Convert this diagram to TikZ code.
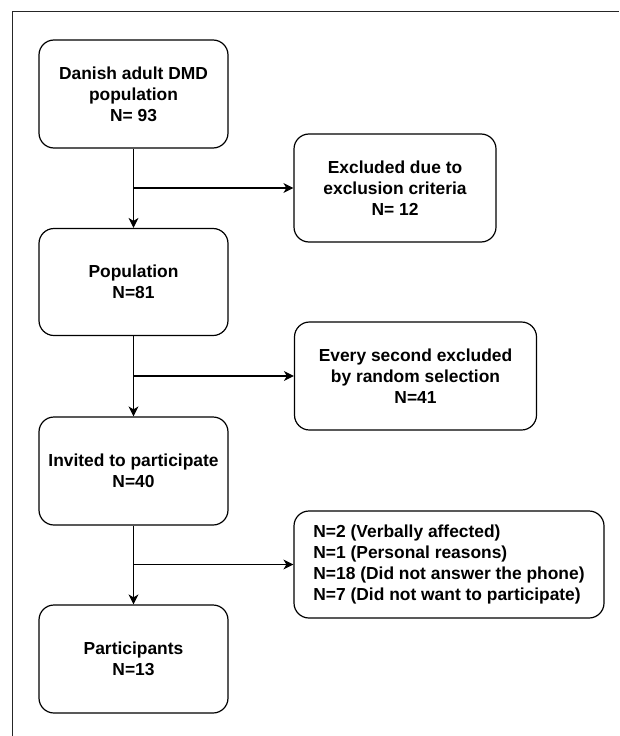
\documentclass[tikz,border=0pt]{standalone}
\usepackage{fontspec}
\setmainfont{Liberation Sans}
\usetikzlibrary{arrows.meta}
\begin{document}
\begin{tikzpicture}[x=1pt,y=-1pt,
  box/.style={draw, line width=1.2pt, rounded corners=15pt, inner sep=0pt,
    font=\fontsize{17.4}{21}\selectfont\bfseries, align=center},
  conn/.style={line width=1.1pt, -{Stealth[length=10pt,width=10pt,inset=3pt]}}]
\useasboundingbox (0,0) rectangle (619,736);
\draw[line width=1pt, black!85] (12,736) -- (12,11) -- (619,11);
\node[box, minimum width=189pt, minimum height=108pt] (b1) at (133.5,94) {Danish adult DMD\\population\\N= 93};
\node[box, minimum width=189pt, minimum height=107pt] (b2) at (133.5,282) {Population\\N=81};
\node[box, minimum width=189pt, minimum height=108pt] (b3) at (133.5,471) {Invited to participate\\N=40};
\node[box, minimum width=189pt, minimum height=108pt] (b4) at (133.5,659) {Participants\\N=13};
\node[box, minimum width=202pt, minimum height=108pt] (r1) at (395,188) {Excluded due to\\exclusion criteria\\N= 12};
\node[box, minimum width=242pt, minimum height=108pt] (r2) at (415.5,376) {Every second excluded\\by random selection\\N=41};
\node[box, minimum width=310pt, minimum height=107pt, align=left] (r3) at (449,564.5) {N=2 (Verbally affected)\\N=1 (Personal reasons)\\N=18 (Did not answer the phone)\\N=7 (Did not want to participate)};
\coordinate (j1) at (b1.south |- r1.west);
\coordinate (j2) at (b2.south |- r2.west);
\coordinate (j3) at (b3.south |- r3.west);
\draw[conn] (b1) -- (b2);
\draw[conn] (b2) -- (b3);
\draw[conn] (b3) -- (b4);
\draw[conn] (j1) -- (r1.west);
\draw[conn] (j2) -- (r2.west);
\draw[conn] (j3) -- (r3.west);
\end{tikzpicture}
\end{document}
